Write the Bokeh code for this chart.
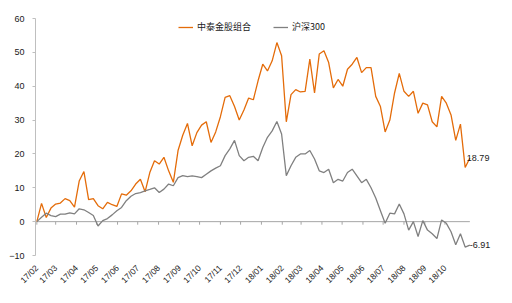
import math
import pandas as pd
from bokeh.plotting import figure
from bokeh.models import (Range1d, FixedTicker, DatetimeTickFormatter, Legend, LegendItem,
                          ColumnDataSource)
from bokeh.core.properties import value
from bokeh.embed import file_html
from bokeh.resources import INLINE

# ---------------- data ----------------
series_names = ["中泰金股组合", "沪深300"]
start_date = "2017-02-01"
n_points = 93  # weekly observations
portfolio = [0, 5.4, 1.2, 4.0, 5.2, 5.5, 6.8, 6.2, 4.3, 12.0,
             14.8, 6.5, 6.8, 4.7, 3.8, 5.7, 5.0, 4.5, 8.2, 7.8,
             9.1, 11.1, 12.5, 8.8, 14.5, 18.0, 17.0, 19.0, 15.0, 11.6,
             21.0, 25.5, 29.0, 22.4, 26.3, 28.5, 29.5, 23.4, 26.5, 31.0,
             36.7, 37.2, 34.0, 30.0, 33.0, 36.5, 36.0, 41.6, 46.5, 44.5,
             47.5, 52.9, 49.0, 29.5, 37.5, 39.0, 38.3, 38.5, 48.0, 38.0,
             49.5, 50.5, 47.0, 39.5, 42.0, 40.0, 45.0, 46.5, 48.5, 44.0,
             45.5, 45.5, 37.0, 34.0, 26.5, 30.0, 38.0, 43.8, 38.5, 37.0,
             38.5, 32.0, 35.0, 34.5, 29.5, 28.0, 37.0, 35.0, 31.5, 24.0,
             28.8, 16.0, 18.79]
hs300 = [0, 1.3, 2.5, 1.8, 1.5, 2.2, 2.2, 2.6, 2.3, 3.8,
         3.5, 2.7, 1.8, -1.3, 0.3, 0.9, 2.0, 3.2, 4.2, 6.2,
         7.5, 8.3, 8.6, 9.1, 9.5, 10.0, 8.6, 9.6, 11.1, 10.6,
         13.0, 13.6, 13.3, 13.5, 13.3, 13.0, 14.0, 15.0, 15.8, 16.5,
         19.5, 21.5, 24.0, 19.5, 18.0, 19.0, 19.3, 18.0, 21.9, 24.9,
         26.8, 29.6, 25.9, 13.6, 16.5, 19.0, 20.0, 20.0, 21.0, 18.5,
         15.0, 14.5, 15.5, 11.5, 12.5, 12.0, 14.5, 15.5, 13.5, 11.5,
         12.5, 10.0, 7.0, 3.2, -0.5, 2.5, 2.3, 5.2, 2.3, -2.5,
         0.0, -4.4, 0.3, -2.5, -3.6, -5.0, 0.5, -0.5, -3.0, -6.8,
         -3.6, -7.5, -6.91]
month_ticks = ["2017-02", "2017-03", "2017-04", "2017-05", "2017-06", "2017-07",
               "2017-08", "2017-09", "2017-10", "2017-11", "2017-12", "2018-01",
               "2018-02", "2018-03", "2018-04", "2018-05", "2018-06", "2018-07",
               "2018-08", "2018-09", "2018-10"]
y_ticks = [-10, 0, 10, 20, 30, 40, 50, 60]
end_labels = ["18.79", "-6.91"]

# ---------------- styling ----------------
ORANGE = "#E46C0A"
GRAY = "#808080"
AXIS = "#BFBFBF"
TXT = "#1a1a1a"

dates = pd.date_range(start_date, periods=n_points, freq="7D")
tick_dates = pd.to_datetime(month_ticks)
tick_ms = [int(t.timestamp() * 1000) for t in tick_dates]

p = figure(width=512, height=303, x_axis_type="datetime", output_backend="svg",
           toolbar_location=None,
           x_range=Range1d(pd.Timestamp("2017-01-30"), pd.Timestamp("2018-12-30")),
           y_range=Range1d(-10, 60),
           min_border_left=35, min_border_right=7, min_border_top=18, min_border_bottom=48)
p.outline_line_color = None
p.xgrid.visible = False
p.ygrid.visible = False
p.background_fill_color = "white"
p.border_fill_color = "white"

# zero line with month tick marks
p.line([dates[0], dates[-1]], [0, 0], line_color="#A6A6A6", line_width=1)
p.segment(x0=list(tick_dates), x1=list(tick_dates), y0=[0] * len(tick_dates),
          y1=[-0.9] * len(tick_dates), line_color="#A6A6A6", line_width=1)

r1 = p.line(dates, portfolio, line_color=ORANGE, line_width=1.3)
r2 = p.line(dates, hs300, line_color=GRAY, line_width=1.3)

# end labels
src = ColumnDataSource(dict(x=[dates[-1], dates[-1]], y=[portfolio[-1], hs300[-1]],
                            t=end_labels, xo=[-3, 0]))
p.text(x="x", y="y", text="t", x_offset="xo", source=src, text_align="left",
       text_baseline="middle", text_font=value("Liberation Sans"),
       text_font_size="9px", text_color=TXT)

# axes
p.yaxis.ticker = FixedTicker(ticks=y_ticks)
p.yaxis.axis_line_color = AXIS
p.yaxis.major_tick_line_color = AXIS
p.yaxis.major_tick_out = 3
p.yaxis.major_tick_in = 0
p.yaxis.minor_tick_line_color = None
p.yaxis.major_label_text_font = "Liberation Sans"
p.yaxis.major_label_text_font_size = "9px"
p.yaxis.major_label_text_color = TXT
p.yaxis.major_label_standoff = 8

p.xaxis.ticker = FixedTicker(ticks=tick_ms)
p.xaxis.formatter = DatetimeTickFormatter(days="%y/%m", months="%y/%m", years="%y/%m",
                                          hours="%y/%m", minutes="%y/%m")
p.xaxis.axis_line_color = None
p.xaxis.major_tick_line_color = None
p.xaxis.minor_tick_line_color = None
p.xaxis.major_label_orientation = math.pi / 4
p.xaxis.major_label_text_font = "Liberation Sans"
p.xaxis.major_label_text_font_size = "8.5px"
p.xaxis.major_label_text_color = TXT
p.xaxis.major_label_standoff = 5

legend = Legend(items=[LegendItem(label=series_names[0], renderers=[r1]),
                       LegendItem(label=series_names[1], renderers=[r2])],
                orientation="horizontal", location=(143, 222),
                glyph_width=15, glyph_height=10, label_standoff=4, spacing=22,
                padding=0, margin=0, border_line_color=None, background_fill_alpha=0,
                label_text_font="Noto Sans CJK SC", label_text_font_size="9px",
                label_text_color=TXT)
p.add_layout(legend, "center")

open("out.html", "w").write(file_html(p, INLINE))
